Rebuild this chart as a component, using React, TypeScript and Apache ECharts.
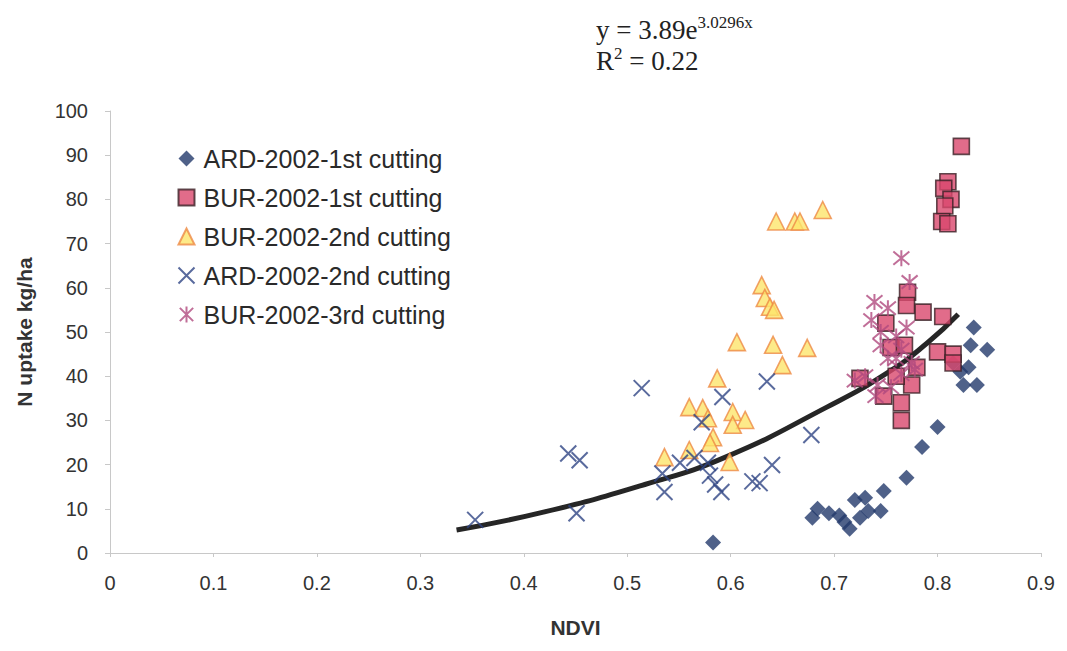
import React, { useEffect, useRef } from "react";
import * as echarts from "echarts";

const xTicks = { min: 0, max: 0.9, interval: 0.1 };
const yTicks = { min: 0, max: 100, interval: 10 };

const ard1st: number[][] = [
  [0.583, 2.4], [0.679, 8], [0.684, 10], [0.695, 9], [0.705, 8.5], [0.71, 7], [0.715, 5.5],
  [0.72, 12], [0.725, 8], [0.73, 12.5], [0.733, 9.5], [0.745, 9.5], [0.748, 14],
  [0.77, 17], [0.785, 24], [0.8, 28.5], [0.815, 43], [0.822, 41], [0.825, 38],
  [0.83, 42], [0.832, 47], [0.838, 38], [0.835, 51], [0.848, 46],
];

const bur1st: number[][] = [
  [0.823, 92], [0.81, 84], [0.806, 82.5], [0.813, 80], [0.807, 78.5], [0.804, 75], [0.81, 74.5],
  [0.771, 59], [0.77, 56], [0.786, 54.5], [0.805, 53.5], [0.75, 52], [0.755, 46.5],
  [0.768, 47], [0.8, 45.5], [0.815, 45], [0.815, 43], [0.725, 39.5], [0.748, 35.5],
  [0.765, 34], [0.765, 30], [0.775, 38], [0.76, 40], [0.78, 42],
];

const bur2nd: number[][] = [
  [0.689, 77.6], [0.644, 75], [0.662, 75], [0.667, 75], [0.63, 60.6], [0.633, 57.7],
  [0.638, 55.7], [0.642, 55], [0.606, 47.7], [0.641, 47.1], [0.674, 46.4], [0.65, 42.5],
  [0.587, 39.5], [0.56, 33], [0.573, 32.8], [0.578, 30.5], [0.602, 31.9], [0.614, 30.1],
  [0.602, 29], [0.583, 26.2], [0.58, 24.9], [0.536, 21.7], [0.56, 23.3], [0.599, 20.6],
];

const ard2nd: number[][] = [
  [0.353, 7.5], [0.443, 22.5], [0.454, 21], [0.451, 9], [0.514, 37.3], [0.536, 13.8],
  [0.534, 18], [0.551, 20.4], [0.565, 21.5], [0.578, 20.4], [0.58, 17.5], [0.585, 15.5],
  [0.591, 13.8], [0.572, 29.6], [0.592, 35.3], [0.635, 38.8], [0.64, 19.9], [0.628, 15.8],
  [0.621, 16.2], [0.678, 26.7],
];

const bur3rd: number[][] = [
  [0.765, 66.7], [0.773, 61.3], [0.739, 56.8], [0.752, 55.4], [0.736, 52.7], [0.745, 50],
  [0.76, 49], [0.77, 51], [0.745, 47], [0.765, 46], [0.752, 44], [0.775, 43], [0.73, 40],
  [0.742, 38], [0.765, 40.5], [0.778, 41.5], [0.76, 44], [0.74, 35.5], [0.755, 37.5], [0.72, 39],
];

const trend: number[][] = [
  [0.335, 5.2], [0.42, 9.3], [0.517, 15.5], [0.595, 21.7], [0.693, 33], [0.751, 40.7],
  [0.79, 47.5], [0.82, 54],
];

const names = [
  "ARD-2002-1st cutting",
  "BUR-2002-1st cutting",
  "BUR-2002-2nd cutting",
  "ARD-2002-2nd cutting",
  "BUR-2002-3rd cutting",
];

const X_PATH = "path://M0,0L10,10M10,0L0,10";
const STAR_PATH = "path://M0,0L10,10M10,0L0,10M5,-1L5,11";

export default function App() {
  const ref = useRef<HTMLDivElement>(null);
  useEffect(() => {
    if (!ref.current) return;
    const chart = echarts.init(ref.current, undefined, { renderer: "svg" });
    const serif = "Liberation Serif";
    chart.setOption({
      animation: false,
      backgroundColor: "#ffffff",
      grid: { left: 110, right: 26, top: 111, bottom: 98 },
      graphic: [
        {
          type: "text",
          left: 596,
          top: 14,
          style: {
            text: "{b|y = 3.89e}{s|3.0296x}",
            rich: {
              b: { fontFamily: serif, fontSize: 27, fill: "#222" },
              s: { fontFamily: serif, fontSize: 17, fill: "#222", padding: [0, 0, 14, 0] },
            },
          },
        },
        {
          type: "text",
          left: 596,
          top: 45,
          style: {
            text: "{b|R}{s|2}{b| = 0.22}",
            rich: {
              b: { fontFamily: serif, fontSize: 27, fill: "#222" },
              s: { fontFamily: serif, fontSize: 17, fill: "#222", padding: [0, 0, 14, 0] },
            },
          },
        },
      ],
      legend: {
        orient: "vertical",
        left: 171,
        top: 141,
        itemGap: 14,
        itemWidth: 16,
        itemHeight: 16,
        data: names,
        textStyle: {
          fontFamily: "Liberation Sans",
          fontSize: 25,
          lineHeight: 25,
          color: "#2a2a2a",
          padding: [0, 0, 0, 4],
        },
      },
      xAxis: {
        type: "value",
        min: xTicks.min,
        max: xTicks.max,
        interval: xTicks.interval,
        name: "NDVI",
        nameLocation: "middle",
        nameGap: 64,
        nameTextStyle: { fontFamily: "Liberation Sans", fontWeight: "bold", fontSize: 21, color: "#333" },
        axisLine: { lineStyle: { color: "#c8c8c8" } },
        axisTick: { show: true, length: 4, lineStyle: { color: "#c8c8c8" } },
        splitLine: { show: false },
        axisLabel: { fontFamily: "Liberation Sans", fontSize: 20, color: "#333", margin: 20 },
      },
      yAxis: {
        type: "value",
        min: yTicks.min,
        max: yTicks.max,
        interval: yTicks.interval,
        name: "N uptake kg/ha",
        nameLocation: "middle",
        nameGap: 75,
        nameTextStyle: { fontFamily: "Liberation Sans", fontWeight: "bold", fontSize: 21, color: "#333" },
        axisLine: { show: true, lineStyle: { color: "#c8c8c8" } },
        axisTick: { show: true, length: 5, lineStyle: { color: "#c8c8c8" } },
        splitLine: { show: false },
        axisLabel: { fontFamily: "Liberation Sans", fontSize: 20, color: "#333", margin: 22 },
      },
      series: [
        {
          name: "trend",
          type: "line",
          data: trend,
          smooth: true,
          showSymbol: false,
          lineStyle: { color: "#262626", width: 5 },
          z: 1,
          silent: true,
        },
        {
          name: names[0],
          type: "scatter",
          data: ard1st,
          symbol: "diamond",
          symbolSize: 16,
          itemStyle: { color: "#23396b" },
          z: 3,
        },
        {
          name: names[1],
          type: "scatter",
          data: bur1st,
          symbol: "rect",
          symbolSize: 16,
          itemStyle: { color: "#d9476d", borderColor: "#3a2026", borderWidth: 1.6 },
          z: 3,
        },
        {
          name: names[2],
          type: "scatter",
          data: bur2nd,
          symbol: "triangle",
          symbolSize: 17,
          itemStyle: { color: "#fde56b", borderColor: "#ee8a45", borderWidth: 1.6 },
          z: 2,
        },
        {
          name: names[3],
          type: "scatter",
          data: ard2nd,
          symbol: X_PATH,
          symbolSize: 16,
          itemStyle: { color: "none", borderColor: "#2f4584", borderWidth: 2 },
          z: 4,
        },
        {
          name: names[4],
          type: "scatter",
          data: bur3rd,
          symbol: STAR_PATH,
          symbolSize: 16,
          itemStyle: { color: "none", borderColor: "#b04a7e", borderWidth: 2 },
          z: 4,
        },
      ],
    });
    return () => chart.dispose();
  }, []);
  return (
    <div
      ref={ref}
      style={{ position: "fixed", left: 0, top: 0, width: 1067, height: 651, background: "#fff" }}
    />
  );
}
